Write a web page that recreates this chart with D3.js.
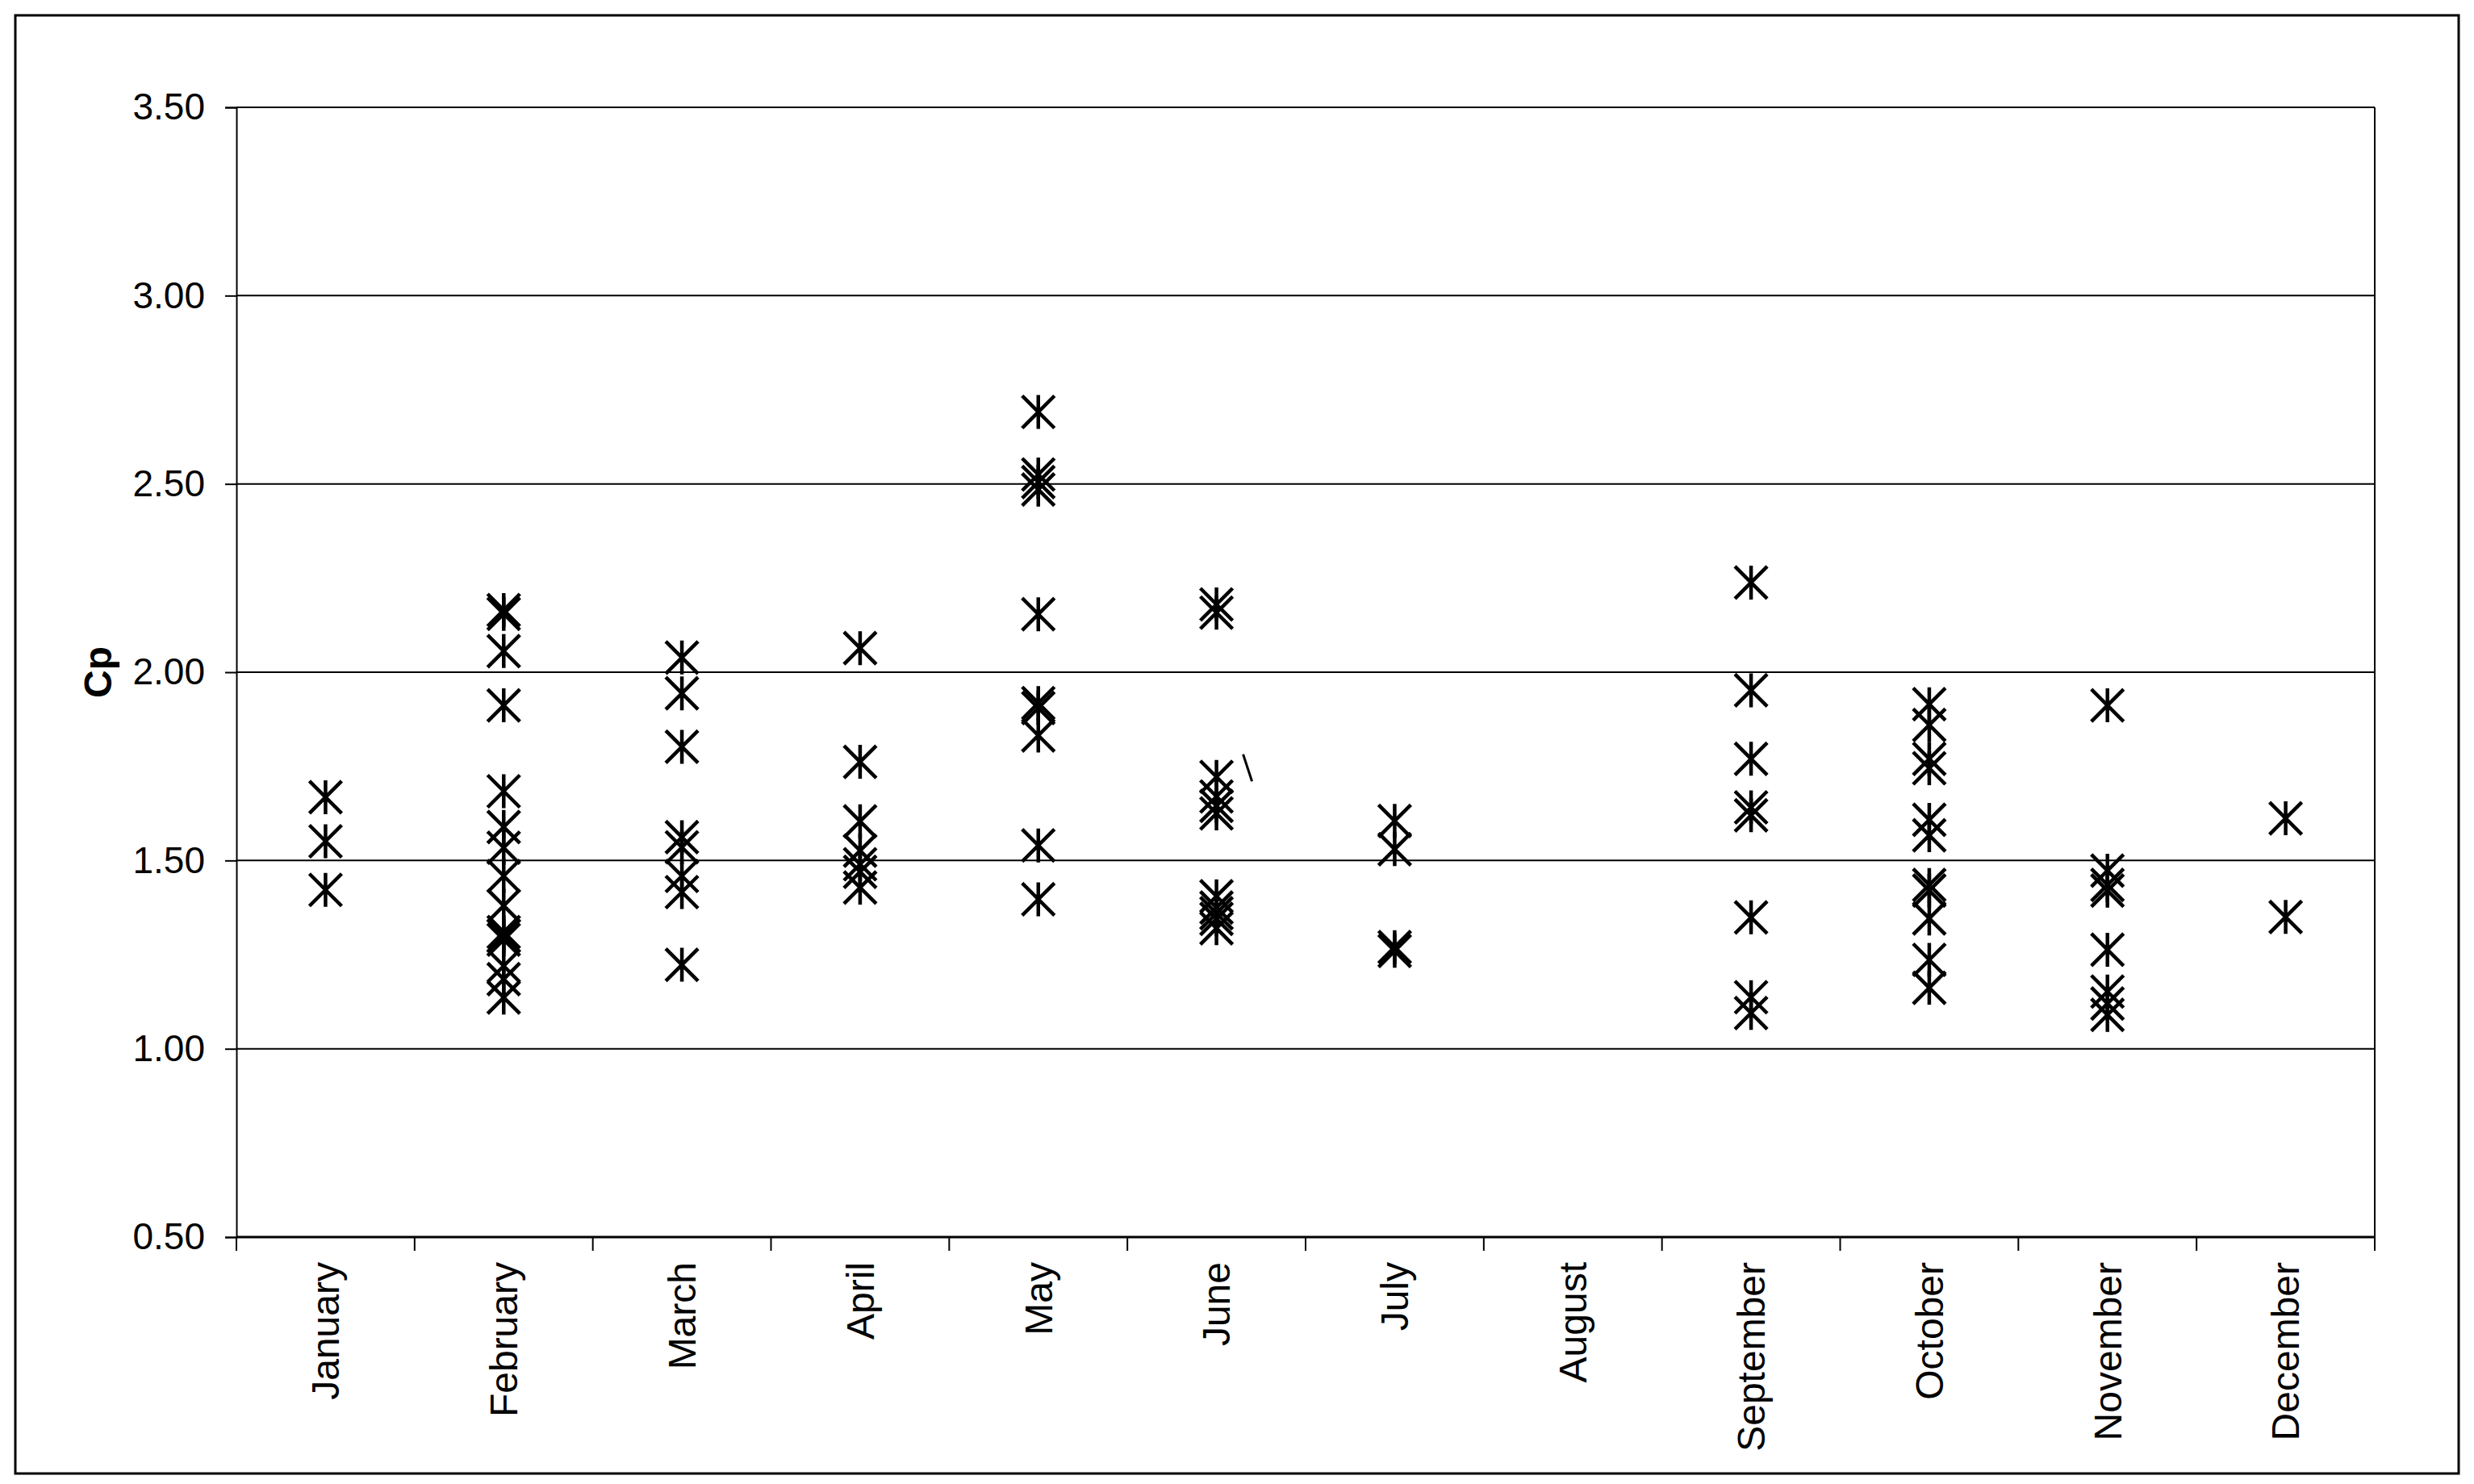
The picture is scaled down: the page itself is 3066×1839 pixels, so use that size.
<!DOCTYPE html>
<html>
<head>
<meta charset="utf-8">
<script src="https://cdn.jsdelivr.net/npm/d3@7"></script>
<style>
  html, body { margin: 0; padding: 0; background: #fff; }
  svg { display: block; }
  text { font-family: "Liberation Sans", Arial, sans-serif; fill: #000; }
</style>
</head>
<body>
<svg id="chart" width="3066" height="1839"></svg>
<script>
// ---- data ----
const months = ["January","February","March","April","May","June","July","August","September","October","November","December"];
const january   = [1.668, 1.551, 1.422];
const february  = [2.165, 2.155, 2.056, 1.912, 1.684, 1.589, 1.534, 1.459, 1.38, 1.31, 1.30, 1.29, 1.22, 1.185, 1.136];
const march     = [2.039, 1.944, 1.802, 1.562, 1.535, 1.459, 1.416, 1.223];
const april     = [2.064, 1.762, 1.604, 1.526, 1.49, 1.47, 1.428];
const may       = [2.691, 2.525, 2.505, 2.485, 2.154, 1.918, 1.905, 1.832, 1.540, 1.397];
const june      = [2.180, 2.158, 1.722, 1.67, 1.645, 1.625, 1.405, 1.375, 1.36, 1.345, 1.32];
const july      = [1.605, 1.530, 1.27, 1.26];
const august    = [];
const september = [2.238, 1.952, 1.770, 1.641, 1.620, 1.349, 1.137, 1.095];
const october   = [1.915, 1.86, 1.77, 1.745, 1.608, 1.567, 1.435, 1.42, 1.346, 1.236, 1.162];
const november  = [1.912, 1.473, 1.435, 1.42, 1.263, 1.152, 1.12, 1.09];
const december  = [1.612, 1.350];
const yTicks = [0.5, 1.0, 1.5, 2.0, 2.5, 3.0, 3.5];
const yTitle = "Cp";
// stray stroke seen next to June in the source (value range it spans)
const strayMonth = "June";
const strayValues = [1.782, 1.710];

const seriesByMonth = [january, february, march, april, may, june, july, august, september, october, november, december];
const points = [];
months.forEach((m, i) => seriesByMonth[i].forEach(v => points.push({ month: m, value: v })));

// ---- layout ----
const W = 3066, H = 1839;
const plot = { left: 293, right: 2943, top: 133, bottom: 1533 };

const svg = d3.select("#chart");
svg.append("rect").attr("width", W).attr("height", H).attr("fill", "#fff");
// outer chart frame
svg.append("rect")
  .attr("x", 19).attr("y", 19).attr("width", 3047 - 19).attr("height", 1826 - 19)
  .attr("fill", "none").attr("stroke", "#000").attr("stroke-width", 3);

const x = d3.scaleBand().domain(months).range([plot.left, plot.right]).padding(0);
const y = d3.scaleLinear().domain([0.5, 3.5]).range([plot.bottom, plot.top]);

// gridlines
svg.append("g").selectAll("line").data(yTicks.filter(d => d > 0.5)).join("line")
  .attr("x1", plot.left).attr("x2", plot.right)
  .attr("y1", d => y(d)).attr("y2", d => y(d))
  .attr("stroke", "#000").attr("stroke-width", 2);

// right border of plot area
svg.append("line")
  .attr("x1", plot.right).attr("x2", plot.right)
  .attr("y1", plot.top).attr("y2", plot.bottom)
  .attr("stroke", "#000").attr("stroke-width", 2);

// y axis
const yAxis = svg.append("g")
  .attr("transform", `translate(${plot.left},0)`)
  .call(d3.axisLeft(y).tickValues(yTicks).tickFormat(d3.format(".2f")).tickSize(14).tickPadding(25));
yAxis.select(".domain").attr("stroke", "#000").attr("stroke-width", 2);
yAxis.selectAll(".tick line").attr("stroke", "#000").attr("stroke-width", 2);
yAxis.selectAll(".tick text")
  .style("font-family", '"Liberation Sans", Arial, sans-serif')
  .style("font-size", "46px").attr("fill", "#000");

// x axis line
svg.append("line")
  .attr("x1", plot.left).attr("x2", plot.right)
  .attr("y1", plot.bottom).attr("y2", plot.bottom)
  .attr("stroke", "#000").attr("stroke-width", 3);

// x boundary ticks (between categories)
const boundaries = d3.range(months.length + 1).map(i => x.range()[0] + i * x.step());
svg.append("g").selectAll("line").data(boundaries).join("line")
  .attr("x1", d => d).attr("x2", d => d)
  .attr("y1", plot.bottom).attr("y2", plot.bottom + 17)
  .attr("stroke", "#000").attr("stroke-width", 2);

// month labels (rotated)
svg.append("g").selectAll("text").data(months).join("text")
  .attr("transform", d => `translate(${x(d) + x.bandwidth() / 2},${plot.bottom + 31}) rotate(-90)`)
  .attr("text-anchor", "end")
  .attr("dy", "0.35em")
  .style("font-size", "48px")
  .text(d => d);

// y title
svg.append("text")
  .attr("transform", `translate(121,${(plot.top + plot.bottom) / 2}) rotate(-90)`)
  .attr("text-anchor", "middle")
  .attr("dy", "0.35em")
  .style("font-size", "48px").style("font-weight", "bold")
  .text(yTitle);

// star markers
const r = 20;
const starPath = `M${-r},${-r}L${r},${r}M${-r},${r}L${r},${-r}M0,${-r - 1}L0,${r + 1}`;
svg.append("g").selectAll("path").data(points).join("path")
  .attr("transform", d => `translate(${x(d.month) + x.bandwidth() / 2},${y(d.value)})`)
  .attr("d", starPath)
  .attr("fill", "none").attr("stroke", "#000").attr("stroke-width", 4.5);

// stray stroke
const sx = x(strayMonth) + x.bandwidth() / 2;
svg.append("line")
  .attr("x1", sx + 33).attr("x2", sx + 44)
  .attr("y1", y(strayValues[0])).attr("y2", y(strayValues[1]))
  .attr("stroke", "#000").attr("stroke-width", 3);
</script>
</body>
</html>
